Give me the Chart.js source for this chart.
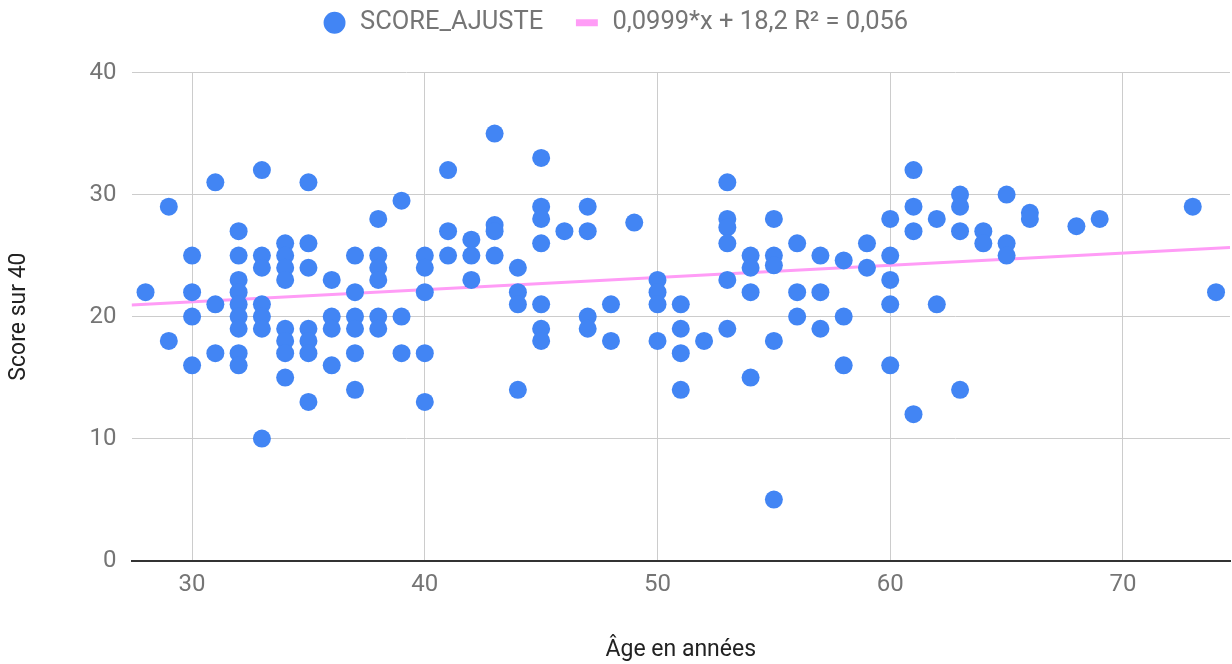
<!DOCTYPE html>
<html>
<head>
<meta charset="utf-8">
<script src="https://cdn.jsdelivr.net/npm/chart.js@4"></script>
<style>
  html, body { margin: 0; padding: 0; background: #fff; }
  #wrap { width: 1232px; height: 664px; }
</style>
</head>
<body>
<div id="wrap"><canvas id="scatterChart"></canvas></div>
<script>
// ages (x) and adjusted scores (y)
const ages = [
    28,
    29, 29,
    30, 30, 30, 30,
    31, 31, 31,
    32, 32, 32, 32, 32, 32, 32, 32, 32,
    33, 33, 33, 33, 33, 33, 33,
    34, 34, 34, 34, 34, 34, 34, 34,
    35, 35, 35, 35, 35, 35, 35,
    36, 36, 36, 36,
    37, 37, 37, 37, 37, 37,
    38, 38, 38, 38, 38, 38,
    39, 39, 39,
    40, 40, 40, 40, 40,
    41, 41, 41,
    42, 42, 42,
    43, 43, 43, 43,
    44, 44, 44, 44,
    45, 45, 45, 45, 45, 45, 45,
    46,
    47, 47, 47, 47,
    48, 48,
    49,
    50, 50, 50, 50,
    51, 51, 51, 51,
    52,
    53, 53, 53, 53, 53, 53,
    54, 54, 54, 54,
    55, 55, 55, 55, 55,
    56, 56, 56,
    57, 57, 57,
    58, 58, 58,
    59, 59,
    60, 60, 60, 60, 60,
    61, 61, 61, 61,
    62, 62,
    63, 63, 63, 63,
    64, 64,
    65, 65, 65,
    66, 66,
    68,
    69,
    73,
    74
];
const scores = [
    22,
    29, 18,
    25, 22, 20, 16,
    31, 21, 17,
    27, 25, 23, 22, 21, 20, 19, 17, 16,
    32, 25, 24, 21, 20, 19, 10,
    26, 25, 24, 23, 19, 18, 17, 15,
    31, 26, 24, 19, 18, 17, 13,
    23, 20, 19, 16,
    25, 22, 20, 19, 17, 14,
    28, 25, 24, 23, 20, 19,
    29.5, 20, 17,
    25, 24, 22, 17, 13,
    32, 27, 25,
    26.3, 25, 23,
    35, 27.5, 27, 25,
    24, 22, 21, 14,
    33, 29, 28, 26, 21, 19, 18,
    27,
    29, 27, 20, 19,
    21, 18,
    27.7,
    23, 22, 21, 18,
    21, 19, 17, 14,
    18,
    31, 28, 27.3, 26, 23, 19,
    25, 24, 22, 15,
    28, 25, 24.2, 18, 5,
    26, 22, 20,
    25, 22, 19,
    24.6, 20, 16,
    26, 24,
    28, 25, 23, 21, 16,
    32, 29, 27, 12,
    28, 21,
    30, 29, 27, 14,
    27, 26,
    30, 26, 25,
    28.5, 28,
    27.4,
    28,
    29,
    22
];

const xTicks = [30, 40, 50, 60, 70];
const yTicks = [0, 10, 20, 30, 40];
const xMin = 27.4;
const xMax = 74.6;

// trendline shown in the legend
const trendSlope = 0.0999;
const trendIntercept = 18.2;
const trendLabel = '0,0999*x + 18,2 R² = 0,056';

const points = ages.map((a, i) => ({ x: a, y: scores[i] }));
const trendPoints = [xMin, xMax].map(x => ({ x: x, y: trendSlope * x + trendIntercept }));

const tickFont = { size: 24, family: 'Roboto' };
const titleFont = { size: 23, family: 'Roboto' };
const tickColor = '#757575';
const trendColor = '#ff9cf6';

// push the plot area down a bit below the legend
const legendGap = {
    id: 'legendGap',
    beforeInit(chart) {
        const fit = chart.legend.fit;
        chart.legend.fit = function() {
            fit.bind(chart.legend)();
            this.height += 27;
        };
    }
};

const ctx = document.getElementById('scatterChart').getContext('2d');
const chart = new Chart(ctx, {
    type: 'scatter',
    data: {
        datasets: [{
            label: 'SCORE_AJUSTE',
            data: points,
            backgroundColor: '#4285f4',
            borderColor: '#4285f4',
            pointRadius: 9,
            pointHoverRadius: 9,
            pointBorderWidth: 0,
            order: 0
        }, {
            type: 'line',
            label: trendLabel,
            data: trendPoints,
            borderColor: trendColor,
            backgroundColor: trendColor,
            borderWidth: 3,
            pointRadius: 0,
            fill: false,
            order: 1
        }]
    },
    options: {
        responsive: true,
        maintainAspectRatio: false,
        animation: false,
        layout: {
            autoPadding: false,
            padding: { top: -21, right: 2, bottom: 0, left: 0 }
        },
        scales: {
            x: {
                type: 'linear',
                min: xMin,
                max: xMax,
                afterBuildTicks: (scale) => {
                    scale.ticks = xTicks.map(v => ({ value: v }));
                },
                ticks: {
                    color: tickColor,
                    font: tickFont,
                    padding: 10,
                    maxRotation: 0
                },
                grid: {
                    color: '#cccccc',
                    lineWidth: 1,
                    drawTicks: false
                },
                border: {
                    display: true,
                    color: '#333333',
                    width: 2
                },
                title: {
                    display: true,
                    text: 'Âge en années',
                    color: '#222222',
                    font: titleFont,
                    padding: { top: 27, bottom: 0 }
                }
            },
            y: {
                min: 0,
                max: 40,
                afterBuildTicks: (scale) => {
                    scale.ticks = yTicks.map(v => ({ value: v }));
                },
                ticks: {
                    color: tickColor,
                    font: tickFont,
                    padding: 15
                },
                grid: {
                    color: (c) => c.tick && c.tick.value === 0 ? '#333333' : '#cccccc',
                    lineWidth: (c) => c.tick && c.tick.value === 0 ? 2 : 1,
                    drawTicks: false
                },
                border: {
                    display: false
                },
                title: {
                    display: true,
                    text: 'Score sur 40',
                    color: '#222222',
                    font: titleFont,
                    padding: { top: 5, bottom: 42 }
                }
            }
        },
        plugins: {
            legend: {
                display: true,
                position: 'top',
                align: 'center',
                labels: {
                    color: tickColor,
                    font: { size: 25.5, family: 'Roboto' },
                    usePointStyle: true,
                    boxHeight: 15.5,
                    padding: 31,
                    generateLabels: (chart) => {
                        const items = Chart.defaults.plugins.legend.labels.generateLabels(chart);
                        items.forEach(item => {
                            if (item.datasetIndex === 1) {
                                item.pointStyle = 'line';
                                item.lineWidth = 7;
                                item.strokeStyle = trendColor;
                            } else {
                                item.pointStyle = 'circle';
                                item.lineWidth = 0;
                            }
                        });
                        return items;
                    }
                }
            },
            tooltip: {
                enabled: false
            }
        }
    },
    plugins: [legendGap]
});
</script>
</body>
</html>
